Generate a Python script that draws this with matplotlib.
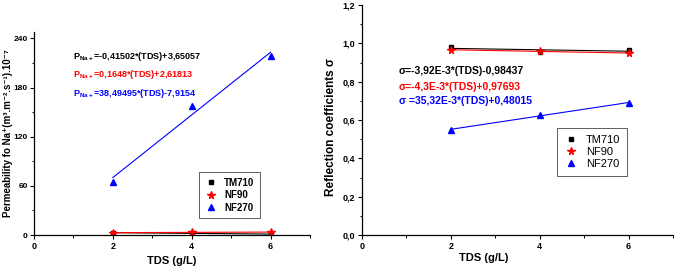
import numpy as np
import matplotlib
matplotlib.use('Agg')
import matplotlib.pyplot as plt
from matplotlib import rcParams
from matplotlib.ticker import MultipleLocator, FuncFormatter

rcParams['font.family'] = ['Liberation Sans', 'DejaVu Sans']
rcParams['mathtext.fontset'] = 'custom'
rcParams['mathtext.rm'] = 'Liberation Sans'
rcParams['mathtext.bf'] = 'Liberation Sans:bold'
rcParams['font.weight'] = 'bold'
rcParams['axes.linewidth'] = 0.9
rcParams['xtick.direction'] = 'out'
rcParams['ytick.direction'] = 'out'

# data
TDS = [2, 4, 6]
membranes = ['TM710', 'NF90', 'NF270']
perm_TM710 = [2.9, 2.0, 1.2]
perm_NF90 = [2.9, 3.3, 3.6]
perm_NF270 = [65, 157, 218]
sig_TM710 = [0.98, 0.955, 0.965]
sig_NF90 = [0.967, 0.958, 0.95]
sig_NF270 = [0.55, 0.625, 0.69]

perm_eqs = [r'P$_{\mathbf{Na+}}$=-0,41502*(TDS)+3,65057',
            r'P$_{\mathbf{Na+}}$=0,1648*(TDS)+2,61813',
            r'P$_{\mathbf{Na+}}$=38,49495*(TDS)-7,9154']
sig_eqs = ['σ=-3,92E-3*(TDS)-0,98437',
           'σ=-4,3E-3*(TDS)+0,97693',
           'σ =35,32E-3*(TDS)+0,48015']

colors = ['black', 'red', 'blue']
markers = ['s', '*', '^']
msizes = [3.5, 5.5, 4.5]

fig = plt.figure(figsize=(6.74, 2.68), dpi=100)
ax1 = fig.add_axes([0.0504, 0.123, 0.4096, 0.758])
ax2 = fig.add_axes([0.537, 0.123, 0.4615, 0.858])

comma = FuncFormatter(lambda v, p: ('%.1f' % v).replace('.', ','))

def draw(ax, series, eqs, ex, ey, fs):
    x = np.array(TDS)
    for vals, c, m, ms, name in zip(series, colors, markers, msizes, membranes):
        k, b = np.polyfit(x, vals, 1)
        ax.plot(x, k * x + b, '-', color=c, lw=0.8)
        ax.plot(x, vals, m, color=c, ms=ms, ls='none', label=name)
    for t, c, yy in zip(eqs, colors, ey):
        ax.text(ex, yy, t, color=c, fontsize=fs, fontweight='bold',
                transform=ax.transAxes, va='center')
    ax.spines['top'].set_visible(False)
    ax.spines['right'].set_visible(False)
    ax.set_xlim(0, 7)
    ax.xaxis.set_major_locator(MultipleLocator(2))
    ax.xaxis.set_minor_locator(MultipleLocator(1))
    ax.tick_params(labelsize=6.5, length=3, width=0.8, pad=2)
    ax.tick_params(which='minor', length=1.8, width=0.7)
    ax.set_xlabel('TDS (g/L)', fontsize=8, fontweight='bold')

draw(ax1, [perm_TM710, perm_NF90, perm_NF270], perm_eqs, 0.141, [0.877, 0.788, 0.695], 6.5)
ax1.set_ylim(0, 248)
ax1.yaxis.set_major_locator(MultipleLocator(60))
ax1.yaxis.set_minor_locator(MultipleLocator(30))
ax1.tick_params(axis='y', pad=1.5, labelsize=6)
ax1.set_ylabel('Permeability fo Na⁺(m³.m⁻².s⁻¹).10⁻⁷',
               fontsize=7, fontweight='bold')
ax1.yaxis.set_label_coords(-0.077, 0.5)
ax1.xaxis.set_label_coords(0.5, -0.103)
leg1 = ax1.legend(loc='upper left', bbox_to_anchor=(0.58, 0.335), fancybox=False,
                  edgecolor='#444444', prop={'weight': 'bold', 'size': 7},
                  handlelength=1.2, borderpad=0.6, labelspacing=0.25, framealpha=1)
leg1.get_frame().set_linewidth(0.6)

draw(ax2, [sig_TM710, sig_NF90, sig_NF270], sig_eqs, 0.119, [0.713, 0.643, 0.583], 7.5)
ax2.set_ylim(0, 1.2)
ax2.yaxis.set_major_locator(MultipleLocator(0.2))
ax2.yaxis.set_minor_locator(MultipleLocator(0.1))
ax2.yaxis.set_major_formatter(comma)
ax2.set_ylabel('Reflection coefficients σ', fontsize=8.5, fontweight='bold')
ax2.yaxis.set_label_coords(-0.08, 0.47)
ax2.xaxis.set_label_coords(0.39, -0.078)
leg2 = ax2.legend(loc='upper left', bbox_to_anchor=(0.61, 0.49), fancybox=False,
                  edgecolor='#444444', prop={'weight': 'normal', 'size': 8},
                  handlelength=1.2, borderpad=0.6, labelspacing=0.2, framealpha=1)
leg2.get_frame().set_linewidth(0.6)

plt.savefig('out.png', dpi=100)
plt.close()
